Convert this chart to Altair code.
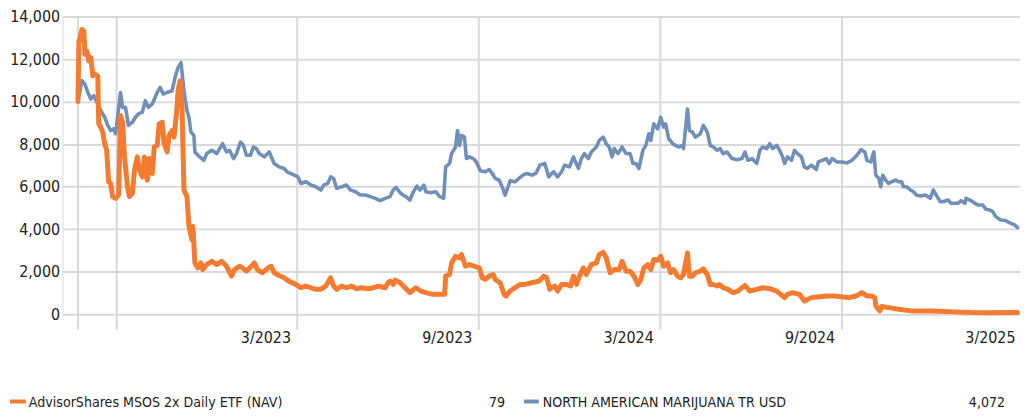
import altair as alt
import pandas as pd

FONT = "DejaVu Sans Condensed, Liberation Sans Narrow, sans-serif"
TEXT = "#222222"
GRID = "#D9D9D9"

series_names = ["AdvisorShares MSOS 2x Daily ETF (NAV)", "NORTH AMERICAN MARIJUANA TR USD"]
series_colors = ["#F47B30", "#7090BA"]

blue_dates = [
    "2022-08-23", "2022-08-27", "2022-08-30", "2022-09-02", "2022-09-05", "2022-09-08", "2022-09-12",
    "2022-09-15", "2022-09-19", "2022-09-22", "2022-09-25", "2022-09-28", "2022-09-30", "2022-10-05",
    "2022-10-07", "2022-10-10", "2022-10-13", "2022-10-17", "2022-10-20", "2022-10-23", "2022-10-27",
    "2022-10-30", "2022-11-02", "2022-11-06", "2022-11-11", "2022-11-14", "2022-11-17", "2022-11-21",
    "2022-11-26", "2022-11-29", "2022-12-02", "2022-12-05", "2022-12-08", "2022-12-11", "2022-12-13",
    "2022-12-15", "2022-12-18", "2022-12-19", "2022-12-22", "2022-12-28", "2022-12-31", "2023-01-05",
    "2023-01-10", "2023-01-16", "2023-01-20", "2023-01-23", "2023-01-27", "2023-01-30", "2023-02-03",
    "2023-02-06", "2023-02-09", "2023-02-13", "2023-02-16", "2023-02-19", "2023-02-22", "2023-02-27",
    "2023-03-04", "2023-03-09", "2023-03-14", "2023-03-19", "2023-03-22", "2023-03-27", "2023-04-02",
    "2023-04-05", "2023-04-10", "2023-04-15", "2023-04-20", "2023-04-25", "2023-04-28", "2023-05-02",
    "2023-05-05", "2023-05-08", "2023-05-11", "2023-05-16", "2023-05-21", "2023-05-25", "2023-05-30",
    "2023-06-04", "2023-06-09", "2023-06-14", "2023-06-19", "2023-06-24", "2023-06-29", "2023-07-04",
    "2023-07-07", "2023-07-10", "2023-07-14", "2023-07-17", "2023-07-20", "2023-07-24", "2023-07-27",
    "2023-07-31", "2023-08-03", "2023-08-07", "2023-08-09", "2023-08-14", "2023-08-19", "2023-08-23",
    "2023-08-27", "2023-08-29", "2023-09-02", "2023-09-04", "2023-09-08", "2023-09-10", "2023-09-12",
    "2023-09-14", "2023-09-17", "2023-09-19", "2023-09-22", "2023-09-26", "2023-09-29", "2023-10-03",
    "2023-10-08", "2023-10-12", "2023-10-15", "2023-10-18", "2023-10-22", "2023-10-25", "2023-10-28",
    "2023-10-31", "2023-11-02", "2023-11-07", "2023-11-11", "2023-11-15", "2023-11-19", "2023-11-24",
    "2023-11-28", "2023-12-02", "2023-12-07", "2023-12-11", "2023-12-14", "2023-12-16", "2023-12-20",
    "2023-12-24", "2023-12-27", "2024-01-01", "2024-01-05", "2024-01-10", "2024-01-13", "2024-01-16",
    "2024-01-20", "2024-01-23", "2024-01-28", "2024-01-31", "2024-02-04", "2024-02-07", "2024-02-10",
    "2024-02-13", "2024-02-15", "2024-02-19", "2024-02-23", "2024-02-27", "2024-03-02", "2024-03-05",
    "2024-03-08", "2024-03-11", "2024-03-15", "2024-03-18", "2024-03-21", "2024-03-23", "2024-03-26",
    "2024-03-30", "2024-04-02", "2024-04-05", "2024-04-07", "2024-04-10", "2024-04-14", "2024-04-17",
    "2024-04-20", "2024-04-24", "2024-04-25", "2024-04-29", "2024-05-01", "2024-05-04", "2024-05-07",
    "2024-05-12", "2024-05-15", "2024-05-19", "2024-05-22", "2024-05-25", "2024-05-29", "2024-06-01",
    "2024-06-04", "2024-06-08", "2024-06-13", "2024-06-18", "2024-06-23", "2024-06-26", "2024-06-29",
    "2024-07-03", "2024-07-08", "2024-07-11", "2024-07-14", "2024-07-18", "2024-07-21", "2024-07-24",
    "2024-07-28", "2024-07-31", "2024-08-03", "2024-08-05", "2024-08-08", "2024-08-12", "2024-08-15",
    "2024-08-18", "2024-08-22", "2024-08-25", "2024-08-28", "2024-09-01", "2024-09-06", "2024-09-08",
    "2024-09-12", "2024-09-16", "2024-09-19", "2024-09-22", "2024-09-27", "2024-10-02", "2024-10-07",
    "2024-10-12", "2024-10-17", "2024-10-21", "2024-10-25", "2024-10-27", "2024-10-31", "2024-11-03",
    "2024-11-05", "2024-11-08", "2024-11-10", "2024-11-12", "2024-11-15", "2024-11-18", "2024-11-21",
    "2024-11-25", "2024-11-28", "2024-12-01", "2024-12-03", "2024-12-06", "2024-12-10", "2024-12-13",
    "2024-12-16", "2024-12-20", "2024-12-25", "2024-12-30", "2025-01-02", "2025-01-05", "2025-01-09",
    "2025-01-12", "2025-01-17", "2025-01-20", "2025-01-24", "2025-01-27", "2025-01-30", "2025-02-03",
    "2025-02-04", "2025-02-08", "2025-02-13", "2025-02-16", "2025-02-21", "2025-02-24", "2025-02-28",
    "2025-03-03", "2025-03-06", "2025-03-11", "2025-03-16", "2025-03-21", "2025-03-25", "2025-03-28",
]
blue_values = [
    10000, 10980, 10820, 10430, 10120, 10280, 9890,
    9580, 9265, 8880, 8640, 8720, 8490, 10430,
    9730, 9730, 8880, 9030, 9265, 9420, 9500,
    10045, 9730, 9890, 10430, 10665, 10355, 10430,
    10510, 11130, 11600, 11835, 10510, 9580, 9265,
    8565, 8410, 7630, 7475, 7240, 7555, 7710,
    7555, 8020, 7630, 7710, 7320, 7555, 8100,
    7940, 7475, 7475, 7865, 7790, 7555, 7400,
    7630, 7090, 6930, 6855, 6700, 6590, 6460,
    6150, 6230, 6075, 5995, 5840, 6075, 6150,
    6460, 6385, 5920, 5995, 6075, 5840, 5760,
    5605, 5605, 5530, 5450, 5340, 5450, 5530,
    5840, 5965, 5715, 5605, 5530, 5370, 5715,
    6025, 5840, 6075, 5760, 5715, 5760, 5530,
    5450, 6930, 7090, 7555, 7865, 8640, 7940,
    8410, 8330, 7320, 7400, 7320, 7160, 6745,
    6700, 6805, 6620, 6385, 6305, 5995, 5605,
    5995, 6275, 6230, 6385, 6540, 6620, 6540,
    6620, 7010, 7090, 6460, 6620, 6700, 6460,
    6700, 7010, 6930, 7400, 6855, 7320, 7555,
    7320, 7630, 7865, 8175, 8330, 8020, 7865,
    7400, 7790, 7555, 7865, 7555, 7555, 7090,
    7090, 6855, 7710, 7940, 8490, 8175, 8955,
    8720, 9265, 8800, 8955, 8255, 8020, 7940,
    7865, 7940, 7790, 9655, 8640, 8565, 8330,
    8490, 8880, 8565, 7940, 7865, 7710, 7790,
    7555, 7630, 7320, 7270, 7320, 7630, 7240,
    7320, 7090, 7710, 7865, 7790, 8020, 7790,
    7940, 7710, 7400, 7090, 7400, 7240, 7710,
    7555, 7400, 6930, 6855, 7010, 6805, 7160,
    7240, 7320, 7090, 7320, 7160, 7160, 7115,
    7240, 7475, 7740, 7630, 7240, 7160, 7630,
    6540, 6400, 5995, 6540, 6305, 6150, 6230,
    6305, 6230, 6230, 5995, 5995, 5840, 5760,
    5605, 5560, 5605, 5450, 5840, 5605, 5295,
    5295, 5370, 5215, 5215, 5215, 5340, 5215,
    5450, 5370, 5215, 5140, 5140, 4940, 4905,
    4825, 4590, 4435, 4405, 4280, 4205, 4072,
]

orange_dates = [
    "2022-08-23", "2022-08-24", "2022-08-25", "2022-08-27", "2022-08-29", "2022-08-30", "2022-09-01",
    "2022-09-03", "2022-09-05", "2022-09-07", "2022-09-09", "2022-09-12", "2022-09-13", "2022-09-15",
    "2022-09-17", "2022-09-19", "2022-09-21", "2022-09-23", "2022-09-25", "2022-09-27", "2022-09-30",
    "2022-10-03", "2022-10-05", "2022-10-07", "2022-10-09", "2022-10-12", "2022-10-14", "2022-10-17",
    "2022-10-19", "2022-10-22", "2022-10-24", "2022-10-27", "2022-10-29", "2022-11-01", "2022-11-03",
    "2022-11-06", "2022-11-08", "2022-11-11", "2022-11-13", "2022-11-16", "2022-11-18", "2022-11-21",
    "2022-11-23", "2022-11-26", "2022-11-28", "2022-12-01", "2022-12-02", "2022-12-04", "2022-12-06",
    "2022-12-08", "2022-12-11", "2022-12-13", "2022-12-16", "2022-12-17", "2022-12-19", "2022-12-22",
    "2022-12-25", "2022-12-27", "2022-12-31", "2023-01-05", "2023-01-10", "2023-01-15", "2023-01-20",
    "2023-01-25", "2023-01-28", "2023-02-02", "2023-02-05", "2023-02-09", "2023-02-14", "2023-02-17",
    "2023-02-20", "2023-02-25", "2023-03-03", "2023-03-06", "2023-03-09", "2023-03-14", "2023-03-19",
    "2023-03-24", "2023-03-31", "2023-04-05", "2023-04-10", "2023-04-15", "2023-04-20", "2023-04-25",
    "2023-04-30", "2023-05-05", "2023-05-08", "2023-05-11", "2023-05-16", "2023-05-21", "2023-05-26",
    "2023-05-31", "2023-06-05", "2023-06-12", "2023-06-17", "2023-06-22", "2023-06-29", "2023-07-02",
    "2023-07-04", "2023-07-07", "2023-07-09", "2023-07-14", "2023-07-19", "2023-07-24", "2023-07-30",
    "2023-08-04", "2023-08-09", "2023-08-16", "2023-08-23", "2023-08-28", "2023-08-29", "2023-09-02",
    "2023-09-04", "2023-09-08", "2023-09-12", "2023-09-14", "2023-09-18", "2023-09-22", "2023-09-27",
    "2023-10-02", "2023-10-05", "2023-10-08", "2023-10-12", "2023-10-16", "2023-10-18", "2023-10-23",
    "2023-10-27", "2023-10-29", "2023-11-02", "2023-11-07", "2023-11-12", "2023-11-17", "2023-11-24",
    "2023-12-01", "2023-12-06", "2023-12-09", "2023-12-12", "2023-12-14", "2023-12-17", "2023-12-20",
    "2023-12-24", "2023-12-29", "2024-01-02", "2024-01-05", "2024-01-08", "2024-01-11", "2024-01-15",
    "2024-01-18", "2024-01-23", "2024-01-28", "2024-01-31", "2024-02-04", "2024-02-07", "2024-02-11",
    "2024-02-15", "2024-02-20", "2024-02-23", "2024-02-27", "2024-03-02", "2024-03-06", "2024-03-10",
    "2024-03-13", "2024-03-16", "2024-03-20", "2024-03-23", "2024-03-26", "2024-03-30", "2024-04-02",
    "2024-04-05", "2024-04-09", "2024-04-12", "2024-04-15", "2024-04-19", "2024-04-22", "2024-04-25",
    "2024-04-29", "2024-05-01", "2024-05-04", "2024-05-07", "2024-05-12", "2024-05-15", "2024-05-19",
    "2024-05-22", "2024-05-25", "2024-05-29", "2024-05-31", "2024-06-04", "2024-06-09", "2024-06-14",
    "2024-06-19", "2024-06-26", "2024-07-01", "2024-07-08", "2024-07-14", "2024-07-21", "2024-07-28",
    "2024-08-05", "2024-08-08", "2024-08-13", "2024-08-20", "2024-08-25", "2024-09-01", "2024-09-09",
    "2024-09-17", "2024-09-24", "2024-10-01", "2024-10-09", "2024-10-16", "2024-10-22", "2024-10-27",
    "2024-11-01", "2024-11-04", "2024-11-05", "2024-11-09", "2024-11-11", "2024-11-18", "2024-11-28",
    "2024-12-11", "2024-12-31", "2025-01-24", "2025-02-09", "2025-02-26", "2025-03-28",
]
orange_values = [
    10000, 12850, 12925, 13390, 13315, 12225, 12380,
    11915, 12070, 11210, 11290, 11210, 8955, 8800,
    8565, 8020, 7710, 6230, 6150, 5530, 5450,
    5605, 9345, 9030, 7400, 5995, 5530, 5685,
    6775, 7400, 6775, 6460, 7400, 6305, 7320,
    6620, 7865, 7940, 8955, 9030, 8020, 7630,
    8410, 8640, 8330, 9730, 10510, 10980, 9730,
    5840, 5530, 4125, 3505, 4125, 2415, 2180,
    2415, 2100, 2335, 2490, 2335, 2490, 2250,
    1790, 2100, 2255, 2180, 2025, 2255, 2415,
    2100, 1950, 2180, 2255, 1950, 1820, 1715,
    1555, 1400, 1245, 1325, 1245, 1170, 1170,
    1325, 1715, 1325, 1170, 1325, 1245, 1325,
    1200, 1245, 1200, 1245, 1325, 1245, 1480,
    1555, 1400, 1600, 1480, 1245, 1015, 1245,
    1090, 1015, 935, 935, 935, 1790, 1870,
    2415, 2725, 2650, 2805, 2255, 2335, 2255,
    2180, 1715, 1635, 1790, 1870, 1635, 1480,
    935, 855, 1090, 1245, 1400, 1400, 1480,
    1555, 1790, 1715, 1170, 1245, 1325, 1090,
    1400, 1400, 1325, 1790, 1400, 1790, 2180,
    1870, 2335, 2415, 2805, 2910, 2650, 1950,
    2100, 2100, 2490, 2025, 2025, 1790, 1400,
    1635, 2180, 2335, 2100, 2570, 2540, 2725,
    2255, 2415, 1950, 2100, 1790, 1715, 1870,
    2880, 1790, 1790, 1950, 2025, 2135, 1870,
    1400, 1400, 1325, 1400, 1245, 1170, 1015,
    1090, 1355, 1090, 1170, 1245, 1200, 1090,
    780, 935, 1015, 935, 620, 780, 825,
    855, 855, 825, 780, 855, 1015, 855,
    855, 780, 390, 155, 360, 310, 235,
    155, 155, 110, 80, 70, 79,
]

grid_dates = ["2022-08-23", "2022-10-01", "2023-04-01", "2023-10-01", "2024-04-01", "2024-10-01"]
label_dates = ["2023-04-01", "2023-10-01", "2024-04-01", "2024-10-01", "2025-04-01"]
label_texts = ["3/2023", "9/2023", "3/2024", "9/2024", "3/2025"]
y_ticks = [0, 2000, 4000, 6000, 8000, 10000, 12000, 14000]


def dt(s, h=0):
    y, m, d = (int(p) for p in s.split("-"))
    return alt.DateTime(year=y, month=m, date=d, hours=h, utc=True)


df = pd.concat([
    pd.DataFrame({"date": blue_dates, "value": blue_values, "series": series_names[1]}),
    pd.DataFrame({"date": orange_dates, "value": orange_values, "series": series_names[0]}),
])

x_enc = alt.X(
    "date:T",
    scale=alt.Scale(type="utc", domain=[dt("2022-08-07", 12), dt("2025-03-30", 12)]),
    axis=alt.Axis(values=[dt(s) for s in grid_dates], grid=True, gridColor=GRID, gridWidth=2,
                  ticks=True, tickSize=15, tickColor=GRID, tickWidth=2,
                  labels=False, domain=False, title=None),
)
y_enc = alt.Y(
    "value:Q",
    scale=alt.Scale(domain=[0, 14000], nice=False),
    axis=alt.Axis(values=y_ticks, format=",.0f", grid=True, gridColor=GRID, gridWidth=2,
                  ticks=False, domain=False, labelPadding=3, labelFontSize=16,
                  labelColor=TEXT, labelFont=FONT, title=None),
)
color_enc = alt.Color("series:N", scale=alt.Scale(domain=series_names, range=series_colors), legend=None)

blue_line = alt.Chart(df).transform_filter(alt.datum.series == series_names[1]).mark_line(
    strokeWidth=3.6, strokeJoin="round", strokeCap="round"
).encode(x=x_enc, y=y_enc, color=color_enc)

orange_line = alt.Chart(df).transform_filter(alt.datum.series == series_names[0]).mark_line(
    strokeWidth=5, strokeJoin="round", strokeCap="round"
).encode(x=x_enc, y=y_enc, color=color_enc)

xlabels = alt.Chart(pd.DataFrame({"date": label_dates, "label": label_texts})).mark_text(
    align="right", baseline="middle", dx=-6, fontSize=16, font=FONT, color=TEXT
).encode(x=x_enc, y=alt.value(324), text="label:N")

finals = [orange_values[-1], blue_values[-1]]
legend_df = pd.DataFrame({"name": series_names, "final": [f"{v:,}" for v in finals]})

swatch_x = [(-53, -37), (465, 480)]
name_x = [-34, 484]
final_x = [446, 950]
legend_layers = []
for i in range(2):
    row = alt.Chart(legend_df.iloc[[i]])
    legend_layers.append(row.mark_rule(strokeWidth=4, color=series_colors[i]).encode(
        x=alt.value(swatch_x[i][0]), x2=alt.value(swatch_x[i][1]), y=alt.value(388)))
    legend_layers.append(row.mark_text(align="left", baseline="middle", fontSize=14.2, font=FONT, color=TEXT).encode(
        x=alt.value(name_x[i]), y=alt.value(389.5), text="name:N"))
    legend_layers.append(row.mark_text(align="right", baseline="middle", fontSize=14.2, font=FONT, color=TEXT).encode(
        x=alt.value(final_x[i]), y=alt.value(389.5), text="final:N"))

chart = alt.layer(blue_line, orange_line, xlabels, *legend_layers).properties(
    width=965, height=300,
    autosize=alt.AutoSizeParams(type="none"),
    padding={"left": 55, "top": 7, "right": 0, "bottom": 105},
).configure_view(stroke=None).configure(font=FONT)

chart.save("out.html", embed_options={"renderer": "svg", "actions": False})
